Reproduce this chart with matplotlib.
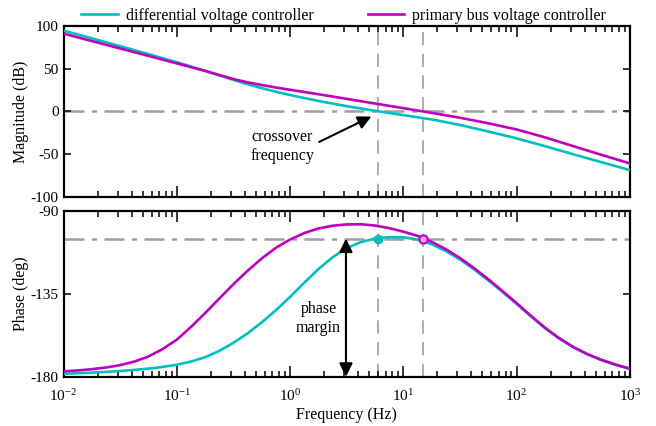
import numpy as np
import matplotlib
matplotlib.use("Agg")
import matplotlib.pyplot as plt
from matplotlib.ticker import LogLocator, NullFormatter

plt.rcParams['font.family'] = ['Liberation Serif', 'DejaVu Serif']
plt.rcParams['mathtext.fontset'] = 'custom'
plt.rcParams['mathtext.rm'] = 'Liberation Serif'
plt.rcParams['axes.unicode_minus'] = False

# magnitude samples (log10 of frequency in Hz, dB)
logf_mag = [-2.0, -1.75, -1.5, -1.25, -1.0, -0.875, -0.75, -0.625, -0.5, -0.375, -0.25,
            -0.125, 0.0, 0.25, 0.5, 0.75, 1.0, 1.25, 1.5, 1.75, 2.0, 2.25, 2.5, 2.75, 3.0]
mag_diff = [94.6, 85.6, 76.4, 67.1, 57.6, 52.6, 47.6, 42.3, 37.0, 32.0, 27.3,
            23.1, 19.3, 12.3, 6.2, 0.8, -4.2, -9.3, -15.7, -23.4, -31.4, -40.5, -50.0, -59.3, -68.5]
mag_bus = [91.1, 82.4, 73.7, 65.0, 56.3, 51.9, 47.4, 42.7, 38.0, 34.1, 31.0,
           28.0, 25.4, 20.2, 14.8, 9.3, 3.9, -1.6, -7.3, -13.8, -21.0, -30.2, -40.5, -50.7, -60.7]

# phase samples (log10 of frequency in Hz, deg)
logf_ph = [-2.0, -1.875, -1.75, -1.625, -1.5, -1.375, -1.25, -1.125, -1.0, -0.875,
           -0.75, -0.625, -0.5, -0.375, -0.25, -0.125, 0.0, 0.125, 0.25, 0.375,
           0.5, 0.625, 0.75, 0.875, 1.0, 1.125, 1.25, 1.375, 1.5, 1.625,
           1.75, 1.875, 2.0, 2.125, 2.25, 2.375, 2.5, 2.625, 2.75, 2.875, 3.0]
ph_diff = [-178.4, -178.1, -177.8, -177.4, -176.9, -176.3, -175.6, -174.7, -173.5, -171.8,
           -169.4, -166.0, -161.6, -156.5, -150.5, -143.9, -136.7, -129.0, -121.6, -115.2,
           -110.2, -106.9, -105.0, -104.2, -104.3, -105.5, -108.0, -111.7, -116.3, -121.7,
           -127.6, -133.9, -140.4, -147.1, -153.6, -159.2, -164.0, -167.9, -171.0, -173.6, -175.8]
ph_bus = [-177.1, -176.6, -175.9, -175.0, -173.7, -171.8, -169.0, -165.0, -159.9, -153.0,
          -145.5, -137.6, -129.8, -122.5, -115.8, -110.0, -105.5, -102.0, -99.5, -98.0,
          -97.3, -97.2, -97.9, -99.3, -101.2, -103.5, -106.7, -110.7, -115.5, -121.0,
          -127.0, -133.4, -140.0, -146.8, -153.3, -159.0, -163.8, -167.7, -170.8, -173.4, -175.6]

f_cross = [6.0, 15.0]      # crossover frequencies (Hz)
pm_level = -105            # phase at crossover
labels = ['differential voltage controller', 'primary bus voltage controller']
c_diff = '#00bfbf'
c_bus = '#bf00bf'
gray = '#a0a0a0'

f_mag = 10 ** np.array(logf_mag)
f_ph = 10 ** np.array(logf_ph)

fig = plt.figure(figsize=(6.56, 4.26), dpi=100)
ax1 = fig.add_axes([0.0968, 0.5376, 0.8632, 0.4014])
ax2 = fig.add_axes([0.0968, 0.1157, 0.8632, 0.389])

# magnitude
ax1.axhline(0, color=gray, lw=1.8, ls=(0, (8, 3, 2, 3)), zorder=1)
for fc in f_cross:
    ax1.axvline(fc, color=gray, lw=1.2, ls=(0, (8, 5)), zorder=1)
l1, = ax1.plot(f_mag, mag_diff, color=c_diff, lw=1.9, zorder=3)
l2, = ax1.plot(f_mag, mag_bus, color=c_bus, lw=1.9, zorder=3)
ax1.set_ylim(-100, 100)
ax1.set_yticks([-100, -50, 0, 50, 100])
ax1.set_ylabel('Magnitude (dB)', fontsize=11.5)
ax1.text(0.85, -40.5, 'crossover\nfrequency', ha='center', va='center', fontsize=11.5,
         linespacing=1.25)
ax1.annotate('', xy=(5.5, -4.5), xytext=(1.72, -37),
             arrowprops=dict(arrowstyle='-|>', color='k', lw=1.5, mutation_scale=20))

# phase
ax2.axhline(pm_level, color=gray, lw=1.8, ls=(0, (8, 3, 2, 3)), zorder=1)
for fc in f_cross:
    ax2.axvline(fc, color=gray, lw=1.2, ls=(0, (8, 5)), zorder=1)
ax2.plot(f_ph, ph_diff, color=c_diff, lw=1.9, zorder=3)
ax2.plot(f_ph, ph_bus, color=c_bus, lw=1.9, zorder=3)
ax2.plot(f_cross[0], pm_level, 'o', color=c_diff, ms=6, zorder=4)
ax2.plot(f_cross[1], pm_level, 'o', mec=c_bus, mfc='#eab0ea', mew=1.5, ms=6, zorder=4)
ax2.annotate('', xy=(3.12, pm_level), xytext=(3.12, -180),
             arrowprops=dict(arrowstyle='<|-|>', color='k', lw=1.5, mutation_scale=20,
                             shrinkA=0, shrinkB=0))
ax2.text(1.78, -148.6, 'phase\nmargin', ha='center', va='center', fontsize=11.5,
         linespacing=1.25)
ax2.set_ylim(-180, -90)
ax2.set_yticks([-180, -135, -90])
ax2.set_ylabel('Phase (deg)', fontsize=11.5)
ax2.set_xlabel('Frequency (Hz)', fontsize=11.5, labelpad=2)

for ax in (ax1, ax2):
    ax.set_xscale('log')
    ax.set_xlim(1e-2, 1e3)
    ax.xaxis.set_major_locator(LogLocator(base=10, numticks=10))
    ax.xaxis.set_minor_locator(LogLocator(base=10, subs=np.arange(2, 10), numticks=10))
    ax.xaxis.set_minor_formatter(NullFormatter())
    ax.tick_params(which='both', direction='in', top=True, right=True, labelsize=11)
    ax.tick_params(which='major', length=8, width=1.1)
    ax.tick_params(which='minor', length=4.5, width=1.1)
    ax.tick_params(axis='y', which='major', length=5)
    ax.tick_params(axis='x', which='major', pad=8)
    ax.yaxis.set_label_coords(-0.061, 0.5)
    for s in ax.spines.values():
        s.set_linewidth(1.6)
ax1.tick_params(labelbottom=False)

fig.legend([l1, l2], labels, loc='upper center', bbox_to_anchor=(0.5236, 1.015), ncol=2,
           frameon=False, fontsize=11.5, handlelength=2.3, columnspacing=3.4,
           handletextpad=0.5)

fig.savefig('out.png', dpi=100)
